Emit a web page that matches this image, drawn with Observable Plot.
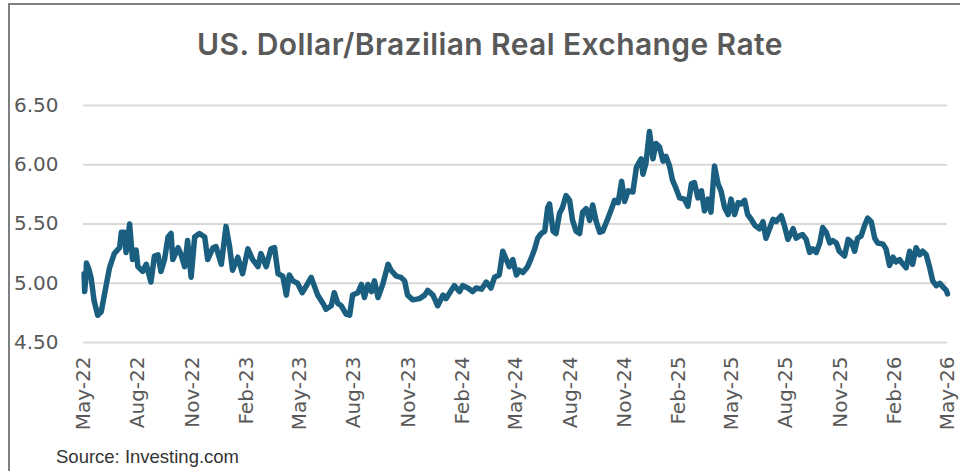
<!DOCTYPE html>
<html>
<head>
<meta charset="utf-8">
<script src="https://cdn.jsdelivr.net/npm/d3@7"></script>
<script src="https://cdn.jsdelivr.net/npm/@observablehq/plot@0.6"></script>
<style>
  html, body { margin: 0; padding: 0; background: #fff; }
  body { width: 960px; height: 471px; position: relative; overflow: hidden; }
  #frame { position: absolute; left: 8px; top: 3px; width: 1000px; height: 1000px;
           border-top: 2px solid #7f7f7f; border-left: 2px solid #7f7f7f; box-sizing: border-box; }
  #title { position: absolute; left: 10px; width: 960px; top: 29px; text-align: center;
           font-family: Inter, sans-serif; font-weight: 600; font-size: 30px; line-height: 30px;
           letter-spacing: 0.4px; color: #595959; }
  #chart { position: absolute; left: 0; top: 80px; }
  #caption { position: absolute; left: 56px; top: 448px; font-family: "Liberation Sans", sans-serif;
             font-size: 18.5px; line-height: 18px; color: #333; }
</style>
</head>
<body>
<div id="frame"></div>
<div id="title"></div>
<div id="chart"></div>
<div id="caption"></div>
<script>
const titleText = "US. Dollar/Brazilian Real Exchange Rate";
const captionText = "Source: Investing.com";
const tickLabels = ["May-22","Aug-22","Nov-22","Feb-23","May-23","Aug-23","Nov-23","Feb-24","May-24","Aug-24","Nov-24","Feb-25","May-25","Aug-25","Nov-25","Feb-26","May-26"];
const yTicks = [4.5, 5.0, 5.5, 6.0, 6.5];
const observations = [
["2022-05-02",5.08],["2022-05-03",4.93],["2022-05-05",5.05],["2022-05-06",5.17],["2022-05-10",5.12],["2022-05-14",5.04],["2022-05-19",4.85],["2022-05-25",4.73],["2022-05-31",4.76],["2022-06-09",5.00],
["2022-06-14",5.13],["2022-06-22",5.25],["2022-07-01",5.30],["2022-07-04",5.43],["2022-07-09",5.43],["2022-07-12",5.26],["2022-07-18",5.50],["2022-07-23",5.20],["2022-07-29",5.28],["2022-08-01",5.14],
["2022-08-09",5.10],["2022-08-15",5.16],["2022-08-23",5.01],["2022-08-29",5.23],["2022-09-04",5.24],["2022-09-09",5.10],["2022-09-15",5.20],["2022-09-21",5.39],["2022-09-26",5.42],["2022-09-29",5.20],
["2022-10-08",5.30],["2022-10-13",5.24],["2022-10-19",5.14],["2022-10-24",5.36],["2022-10-30",5.05],["2022-11-05",5.39],["2022-11-13",5.42],["2022-11-22",5.39],["2022-11-27",5.20],["2022-12-06",5.30],
["2022-12-11",5.31],["2022-12-20",5.16],["2022-12-28",5.48],["2023-01-03",5.31],["2023-01-08",5.11],["2023-01-17",5.22],["2023-01-25",5.08],["2023-02-03",5.29],["2023-02-11",5.20],["2023-02-20",5.14],
["2023-02-25",5.25],["2023-03-06",5.14],["2023-03-14",5.29],["2023-03-20",5.30],["2023-03-26",5.08],["2023-04-03",5.06],["2023-04-09",4.90],["2023-04-14",5.07],["2023-04-20",5.02],["2023-04-28",5.00],
["2023-05-06",4.92],["2023-05-13",4.98],["2023-05-21",5.05],["2023-06-01",4.90],["2023-06-10",4.83],["2023-06-15",4.78],["2023-06-24",4.81],["2023-06-29",4.92],["2023-07-05",4.83],["2023-07-11",4.81],
["2023-07-19",4.74],["2023-07-25",4.73],["2023-07-30",4.90],["2023-08-08",4.92],["2023-08-14",4.99],["2023-08-19",4.88],["2023-08-25",4.99],["2023-08-31",4.93],["2023-09-05",5.02],["2023-09-11",4.88],
["2023-09-19",4.99],["2023-09-28",5.16],["2023-10-03",5.11],["2023-10-12",5.06],["2023-10-20",5.05],["2023-10-26",5.02],["2023-10-31",4.90],["2023-11-09",4.86],["2023-11-20",4.87],["2023-11-29",4.90],
["2023-12-04",4.94],["2023-12-13",4.90],["2023-12-21",4.81],["2023-12-30",4.90],["2024-01-04",4.87],["2024-01-13",4.94],["2024-01-18",4.98],["2024-01-27",4.93],["2024-02-01",4.98],["2024-02-10",4.96],
["2024-02-18",4.93],["2024-02-24",4.96],["2024-03-04",4.95],["2024-03-12",5.01],["2024-03-20",4.96],["2024-03-26",5.05],["2024-04-03",5.07],["2024-04-09",5.27],["2024-04-15",5.20],["2024-04-20",5.14],
["2024-04-26",5.20],["2024-05-02",5.07],["2024-05-07",5.11],["2024-05-13",5.09],["2024-05-21",5.14],["2024-05-27",5.21],["2024-06-02",5.29],["2024-06-07",5.38],["2024-06-13",5.42],["2024-06-19",5.44],
["2024-06-24",5.64],["2024-06-27",5.67],["2024-07-03",5.44],["2024-07-08",5.42],["2024-07-14",5.59],["2024-07-19",5.64],["2024-07-25",5.74],["2024-07-31",5.70],["2024-08-05",5.53],["2024-08-11",5.44],
["2024-08-17",5.42],["2024-08-22",5.60],["2024-08-28",5.63],["2024-09-03",5.53],["2024-09-08",5.66],["2024-09-14",5.52],["2024-09-20",5.43],["2024-09-25",5.44],["2024-10-04",5.55],["2024-10-10",5.63],
["2024-10-15",5.70],["2024-10-21",5.68],["2024-10-27",5.86],["2024-11-01",5.69],["2024-11-07",5.78],["2024-11-15",5.77],["2024-11-21",5.98],["2024-11-29",6.05],["2024-12-02",5.92],["2024-12-07",6.01],
["2024-12-13",6.28],["2024-12-19",6.05],["2024-12-24",6.18],["2024-12-30",6.15],["2025-01-05",6.03],["2025-01-10",6.07],["2025-01-16",5.99],["2025-01-21",5.87],["2025-01-27",5.80],["2025-02-02",5.72],
["2025-02-10",5.71],["2025-02-16",5.65],["2025-02-22",5.84],["2025-02-27",5.85],["2025-03-05",5.72],["2025-03-11",5.78],["2025-03-16",5.61],["2025-03-22",5.71],["2025-03-27",5.60],["2025-04-02",5.99],
["2025-04-08",5.84],["2025-04-13",5.78],["2025-04-19",5.64],["2025-04-25",5.58],["2025-04-30",5.71],["2025-05-06",5.58],["2025-05-12",5.68],["2025-05-17",5.67],["2025-05-23",5.70],["2025-05-28",5.58],
["2025-06-03",5.54],["2025-06-09",5.49],["2025-06-17",5.46],["2025-06-23",5.52],["2025-06-28",5.38],["2025-07-04",5.46],["2025-07-10",5.54],["2025-07-15",5.52],["2025-07-24",5.57],["2025-07-29",5.49],
["2025-08-04",5.37],["2025-08-13",5.46],["2025-08-18",5.38],["2025-08-24",5.40],["2025-08-29",5.41],["2025-09-04",5.37],["2025-09-10",5.26],["2025-09-15",5.29],["2025-09-21",5.26],["2025-09-27",5.34],
["2025-10-02",5.47],["2025-10-08",5.43],["2025-10-14",5.34],["2025-10-19",5.36],["2025-10-25",5.34],["2025-10-30",5.27],["2025-11-08",5.23],["2025-11-14",5.37],["2025-11-19",5.35],["2025-11-25",5.27],
["2025-11-30",5.38],["2025-12-06",5.40],["2025-12-12",5.49],["2025-12-17",5.55],["2025-12-23",5.52],["2025-12-29",5.38],["2026-01-03",5.34],["2026-01-12",5.33],["2026-01-17",5.29],["2026-01-23",5.15],
["2026-01-29",5.22],["2026-02-03",5.18],["2026-02-09",5.20],["2026-02-15",5.16],["2026-02-20",5.13],["2026-02-26",5.27],["2026-03-03",5.16],["2026-03-09",5.30],["2026-03-15",5.24],["2026-03-20",5.27],
["2026-03-26",5.24],["2026-04-01",5.13],["2026-04-06",5.02],["2026-04-12",4.98],["2026-04-18",5.00],["2026-04-23",4.97],["2026-04-29",4.94],["2026-05-01",4.91]
];

const parseDay = d3.utcParse("%Y-%m-%d");
const parseTick = d3.utcParse("%b-%y");
const data = observations.map(([d, v]) => ({date: parseDay(d), rate: v}));
const tickDates = tickLabels.map(parseTick);

document.getElementById("title").textContent = titleText;
document.getElementById("caption").textContent = captionText;

const chart = Plot.plot({
  width: 960,
  height: 360,
  marginLeft: 83,
  marginRight: 13,
  marginTop: 25,
  marginBottom: 98,
  style: {fontFamily: "DejaVu Sans", fontSize: "20px", color: "#595959", background: "transparent", overflow: "visible"},
  x: {type: "utc", domain: [tickDates[0], tickDates[tickDates.length - 1]]},
  y: {domain: [4.5, 6.5]},
  marks: [
    Plot.ruleY(yTicks, {stroke: "#d9d9d9", strokeWidth: 2}),
    Plot.axisY({ticks: yTicks, tickFormat: d3.format(".2f"), tickSize: 0, tickPadding: 25, label: null}),
    Plot.axisX({ticks: tickDates, tickFormat: d3.utcFormat("%b-%y"), tickRotate: -90, tickSize: 0, tickPadding: 14, label: null}),
    Plot.line(data, {x: "date", y: "rate", stroke: "#1a5f80", strokeWidth: 5.5, strokeLinejoin: "round", strokeLinecap: "round"})
  ]
});
document.getElementById("chart").appendChild(chart);
</script>
</body>
</html>
